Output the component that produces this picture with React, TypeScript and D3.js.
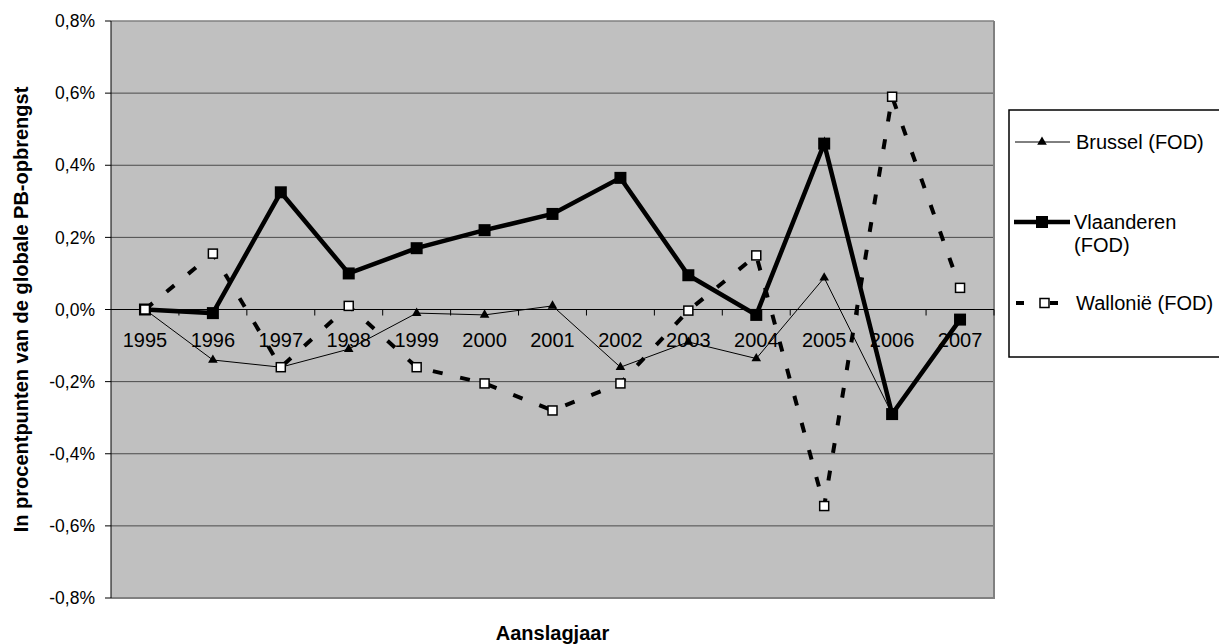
import React from "react";
import * as d3 from "d3";

const years = ["1995","1996","1997","1998","1999","2000","2001","2002","2003","2004","2005","2006","2007"];
const brussel = [0, -0.14, -0.16, -0.11, -0.01, -0.015, 0.01, -0.16, -0.09, -0.136, 0.088, -0.29, -0.03];
const vlaanderen = [0, -0.01, 0.325, 0.10, 0.17, 0.22, 0.265, 0.365, 0.095, -0.015, 0.46, -0.29, -0.028];
const wallonie = [0, 0.155, -0.16, 0.01, -0.16, -0.205, -0.28, -0.205, -0.003, 0.15, -0.545, 0.59, 0.06];
const yTicks = [-0.8, -0.6, -0.4, -0.2, 0, 0.2, 0.4, 0.6, 0.8];

const W = 1219, H = 644;
const L = 111, R = 994, T = 21, B = 598;
const font = "'Liberation Sans', Arial, sans-serif";

export default function App() {
  const x = d3.scaleBand<string>().domain(years).range([L, R]).paddingInner(0).paddingOuter(0);
  const y = d3.scaleLinear().domain([-0.8, 0.8]).range([B, T]);
  const cx = (yr: string) => (x(yr) as number) + x.bandwidth() / 2;
  const line = d3.line<number>().x((_, i) => cx(years[i])).y((v) => y(v));
  const fmt = (v: number) => v.toFixed(1).replace(".", ",") + "%";
  const y0 = y(0);
  const tri = d3.symbol().type(d3.symbolTriangle).size(40)();

  return (
    <svg width={W} height={H} style={{ position: "absolute", left: 0, top: 0 }} fontFamily={font}>
      <rect x={0} y={0} width={W} height={H} fill="#fff" />
      <rect x={L} y={T} width={R - L} height={B - T} fill="#c0c0c0" />
      {yTicks.map((t) => (
        <g key={t}>
          {t !== 0.8 && t !== -0.8 && (
            <line x1={L} x2={R} y1={y(t)} y2={y(t)} stroke="#4a4a4a" strokeWidth={1} />
          )}
          <line x1={L - 6} x2={L} y1={y(t)} y2={y(t)} stroke="#000" />
          <text x={L - 16} y={y(t)} dy="0.35em" textAnchor="end" fontSize={17.5}>{fmt(t)}</text>
        </g>
      ))}
      {/* plot border */}
      <line x1={L} x2={R} y1={T} y2={T} stroke="#808080" strokeWidth={1.5} />
      <line x1={R} x2={R} y1={T} y2={B} stroke="#808080" strokeWidth={2} />
      <line x1={L} x2={R + 1} y1={B} y2={B} stroke="#808080" strokeWidth={2} />
      <line x1={L} x2={L} y1={T} y2={B} stroke="#000" strokeWidth={1} />
      {/* x axis at zero */}
      <line x1={L} x2={R} y1={y0} y2={y0} stroke="#000" strokeWidth={1} />
      {years.map((yr) => (
        <line key={"t" + yr} x1={(x(yr) as number) + x.bandwidth()} x2={(x(yr) as number) + x.bandwidth()} y1={y0} y2={y0 + 6} stroke="#000" />
      ))}
      {years.map((yr) => (
        <text key={"l" + yr} x={cx(yr)} y={y0 + 30} dy="0.35em" textAnchor="middle" fontSize={20}>{yr}</text>
      ))}
      {/* Brussel */}
      <path d={line(brussel) || ""} fill="none" stroke="#000" strokeWidth={1} />
      {brussel.map((v, i) => (
        <path key={"b" + i} d={tri || ""} transform={`translate(${cx(years[i])},${y(v)})`} fill="#000" />
      ))}
      {/* Vlaanderen */}
      <path d={line(vlaanderen) || ""} fill="none" stroke="#000" strokeWidth={4.5} strokeLinejoin="miter" />
      {vlaanderen.map((v, i) => (
        <rect key={"v" + i} x={cx(years[i]) - 6} y={y(v) - 6} width={12} height={12} fill="#000" />
      ))}
      {/* Wallonie */}
      <path d={line(wallonie) || ""} fill="none" stroke="#000" strokeWidth={4} strokeDasharray="10,18" />
      {wallonie.map((v, i) => (
        <rect key={"w" + i} x={cx(years[i]) - 4.5} y={y(v) - 4.5} width={9} height={9} fill="#fff" stroke="#000" strokeWidth={1.5} />
      ))}
      {/* axis titles */}
      <text x={(L + R) / 2} y={640} textAnchor="middle" fontSize={20} fontWeight="bold">Aanslagjaar</text>
      <text transform={`translate(28,${(T + B) / 2}) rotate(-90)`} textAnchor="middle" fontSize={20} fontWeight="bold">In procentpunten van de globale PB-opbrengst</text>
      {/* legend */}
      <rect x={1009} y={110} width={260} height={247} fill="#fff" stroke="#000" strokeWidth={1.5} />
      <line x1={1015} x2={1070} y1={142} y2={142} stroke="#000" strokeWidth={1} />
      <path d={tri || ""} transform="translate(1042,142)" fill="#000" />
      <text x={1076} y={142} dy="0.35em" fontSize={20}>Brussel (FOD)</text>
      <line x1={1014} x2={1070} y1={222} y2={222} stroke="#000" strokeWidth={4.5} />
      <rect x={1036} y={216} width={12} height={12} fill="#000" />
      <text x={1074} y={222} dy="0.35em" fontSize={20}>Vlaanderen</text>
      <text x={1074} y={245} dy="0.35em" fontSize={20}>(FOD)</text>
      <line x1={1016} x2={1024} y1={303} y2={303} stroke="#000" strokeWidth={4} />
      <line x1={1050} x2={1058} y1={303} y2={303} stroke="#000" strokeWidth={4} />
      <rect x={1040} y={298.5} width={9} height={9} fill="#fff" stroke="#000" strokeWidth={1.5} />
      <text x={1076} y={303} dy="0.35em" fontSize={20}>Wallonië (FOD)</text>
    </svg>
  );
}
